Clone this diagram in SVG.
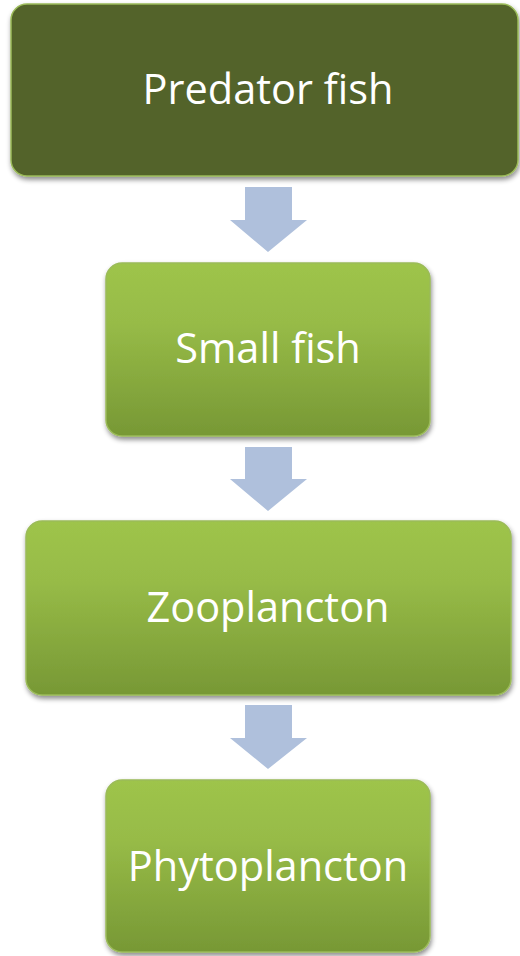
<svg xmlns="http://www.w3.org/2000/svg" width="520" height="956" viewBox="0 0 520 956">
<style>
.lbl{font-family:"Open Sans","Liberation Sans",sans-serif;font-size:41.5px;fill:#ffffff;text-anchor:middle}
.box{stroke:#9bbb59;stroke-width:1.5;filter:url(#sh)}
.arr{fill:#afc0dc}
</style>
<defs>
<linearGradient id="g" x1="0" y1="0" x2="0" y2="1">
<stop offset="0" stop-color="#9ec44b"/>
<stop offset="0.35" stop-color="#97bb47"/>
<stop offset="1" stop-color="#779835"/>
</linearGradient>
<filter id="sh" x="-10%" y="-10%" width="120%" height="130%">
<feDropShadow dx="1" dy="3" stdDeviation="2.5" flood-color="#000" flood-opacity="0.45"/>
</filter>
</defs>
<rect width="520" height="956" fill="#ffffff"/>
<g id="connectors">
<polygon class="arr" points="245,187 292,187 292,220 307,220 268,252 230,220 245,220"/>
<polygon class="arr" points="245,447 292,447 292,479 307,479 268,511 230,479 245,479"/>
<polygon class="arr" points="245,705 292,705 292,738 307,738 268,769 230,738 245,738"/>
</g>
<g id="node-predator">
<rect class="box" x="11" y="4" width="507" height="172" rx="16" fill="#526329"/>
<text class="lbl" x="268" y="104">Predator fish</text>
</g>
<g id="node-small">
<rect class="box" x="106" y="263" width="324" height="173" rx="16" fill="url(#g)"/>
<text class="lbl" x="268" y="363">Small fish</text>
</g>
<g id="node-zoo">
<rect class="box" x="26" y="521" width="485" height="174" rx="16" fill="url(#g)"/>
<text class="lbl" x="268" y="622">Zooplancton</text>
</g>
<g id="node-phyto">
<rect class="box" x="106" y="780" width="324" height="172" rx="16" fill="url(#g)"/>
<text class="lbl" x="268" y="881">Phytoplancton</text>
</g>
</svg>
